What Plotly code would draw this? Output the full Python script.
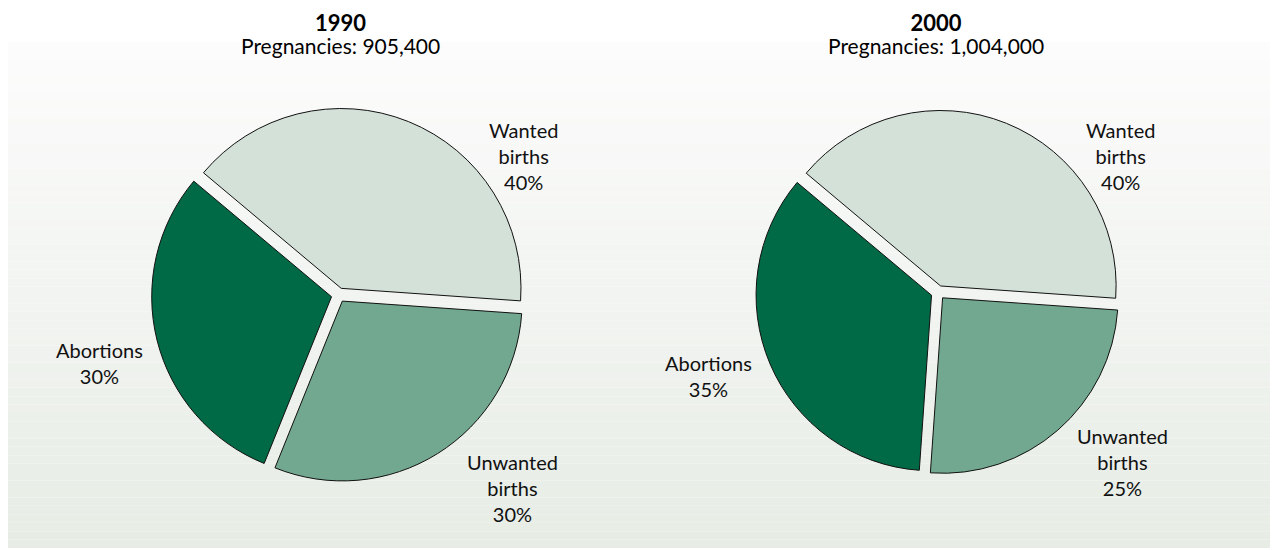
import plotly.graph_objects as go

# ---- data ----
years = ["1990", "2000"]
pregnancies = ["905,400", "1,004,000"]
categories = ["Wanted births", "Unwanted births", "Abortions"]
label_lines = ["Wanted<br>births", "Unwanted<br>births", "Abortions"]
shares_1990 = [40, 30, 30]
shares_2000 = [40, 25, 35]
series = [shares_1990, shares_2000]

# ---- styles ----
colors = ["#d3e1d9", "#72a890", "#006945"]
FONT = "Lato"
W, H = 1270, 542   # page body has an 8px margin
OFF = 8


def px(x):
    return (x - OFF) / W


def py(y):
    return 1 - (y - OFF) / H


fig = go.Figure()

domains = [
    dict(x=[px(151.5), px(525.5)], y=[py(482), py(108)]),
    dict(x=[px(755.5), px(1120.5)], y=[py(475), py(110)]),
]

for i, vals in enumerate(series):
    fig.add_trace(go.Pie(
        labels=categories,
        values=vals,
        sort=False,
        direction="clockwise",
        rotation=-50,
        pull=[0.04, 0.04, 0.04],
        marker=dict(colors=colors, line=dict(color="#111111", width=1)),
        textinfo="none",
        hoverinfo="label+percent",
        showlegend=False,
        domain=domains[i],
    ))

# background gradient (bands)
top_c = (252, 252, 252)
bot_c = (231, 236, 229)
y0px, y1px = 42, 548
n = 60
shapes = []
for k in range(n):
    t = k / (n - 1)
    c = tuple(round(top_c[j] + (bot_c[j] - top_c[j]) * t) for j in range(3))
    ya = y0px + (y1px - y0px) * k / n
    yb = y0px + (y1px - y0px) * (k + 1) / n
    shapes.append(dict(type="rect", xref="paper", yref="paper",
                       x0=0, x1=1, y0=py(yb), y1=py(ya),
                       fillcolor="rgb(%d,%d,%d)" % c, line=dict(width=0), layer="below"))

annotations = []
# titles (one block per pie: bold year + pregnancies line)
title_x = [340, 936]
for i in range(2):
    annotations.append(dict(
        x=px(title_x[i]), y=py(33.5), xref="paper", yref="paper",
        text=("<span style='font-size:22px'><b>%s</b></span><br>"
              "<span style='font-size:21px'>Pregnancies: %s</span>") % (years[i], pregnancies[i]),
        showarrow=False, align="center",
        font=dict(family=FONT, size=18, color="#000000"),
        xanchor="center", yanchor="middle"))

# slice labels (layout positions, text from data)
label_pos = [
    [(523, 156), (512, 488), (99, 363)],
    [(1120, 156), (1122, 462), (708, 376)],
]
for i, vals in enumerate(series):
    for j, cat in enumerate(label_lines):
        x, y = label_pos[i][j]
        annotations.append(dict(x=px(x), y=py(y), xref="paper", yref="paper",
                                text="%s<br>%d%%" % (cat, vals[j]), showarrow=False,
                                align="center",
                                font=dict(family=FONT, size=20, color="#111111"),
                                xanchor="center", yanchor="middle"))

fig.update_layout(
    width=W, height=H,
    margin=dict(l=0, r=0, t=0, b=0),
    paper_bgcolor="#ffffff",
    plot_bgcolor="#ffffff",
    shapes=shapes,
    annotations=annotations,
)

fig.write_html("out.html")
